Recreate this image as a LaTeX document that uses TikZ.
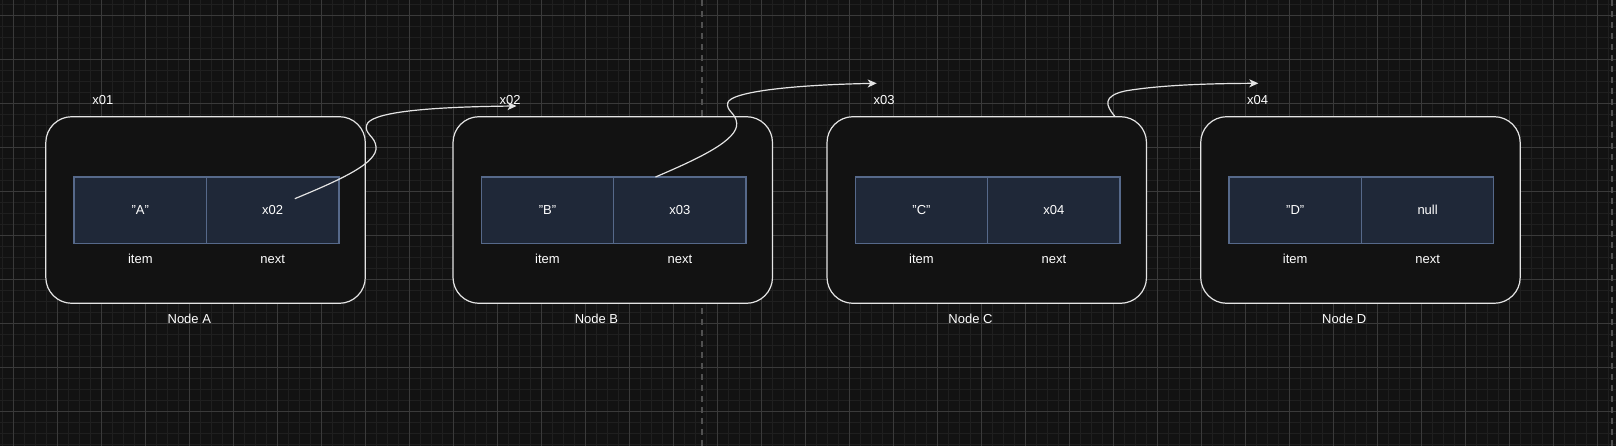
\documentclass[tikz,border=0pt]{standalone}
\usepackage{fontspec}
\setmainfont{Liberation Sans}
\usetikzlibrary{arrows.meta}
\definecolor{bg}{HTML}{121212}
\definecolor{gridminor}{HTML}{1F1F1F}
\definecolor{gridmajor}{HTML}{3A3A3A}
\definecolor{boxfill}{HTML}{121212}
\definecolor{boxline}{HTML}{E4E4E4}
\definecolor{cellfill}{HTML}{1F2838}
\definecolor{cellline}{HTML}{56698A}
\definecolor{pageline}{HTML}{505050}
\begin{document}
\begin{tikzpicture}[x=1pt,y=-1pt,
  txt/.style={text=white, font=\fontsize{13}{15}\selectfont, inner sep=0pt, text height=9.3pt, text depth=0pt},
  nodebox/.style={draw=boxline, fill=boxfill, line width=1.2pt, rounded corners=26pt, minimum width=319.5pt, minimum height=186.6pt, inner sep=0pt},
  cellbox/.style={draw=cellline, fill=cellfill, line width=1.3pt, minimum width=132.4pt, minimum height=66.3pt, txt},
  link/.style={draw=boxline, line width=1.2pt, -{Stealth[length=9pt,width=8pt,inset=2.5pt]}},
  minorline/.style={draw=gridminor, line width=1pt},
  majorline/.style={draw=gridmajor, line width=1pt},
  pagebreak/.style={draw=pageline, line width=1.5pt, dash pattern=on 6pt off 5pt},
]
\fill[bg] (0,0) rectangle (1616,446);
\useasboundingbox (0,0) rectangle (1616,446);
% grid
\foreach \k in {0,...,146} \draw[minorline] ({2.3+11*\k},0) -- ({2.3+11*\k},446);
\foreach \k in {0,...,40} \draw[minorline] (0,{4.3+11*\k}) -- (1616,{4.3+11*\k});
\foreach \k in {0,...,36} \draw[majorline] ({13.3+44*\k},0) -- ({13.3+44*\k},446);
\foreach \k in {0,...,9} \draw[majorline] (0,{15.3+44*\k}) -- (1616,{15.3+44*\k});
% page boundaries
\draw[pagebreak] (702,0) -- (702,446);
\draw[pagebreak] (1612,0) -- (1612,446);
% list nodes
\foreach \L/\n/\v/\p/\a in {45.8/A/"A"/x02/x01, 453/B/"B"/x03/x02, 827/C/"C"/x04/x03, 1200.7/D/"D"/null/x04}{
  \node[nodebox] (box\n) at ({\L+159.75},210) {};
  \node[cellbox] (item\n) at ({\L+94.5},210.15) {\v};
  \node[cellbox] (next\n) at ({\L+226.9},210.15) {\p};
  \node[txt] (itemlbl\n) at ({\L+94.5},259.3) {item};
  \node[txt] (nextlbl\n) at ({\L+226.9},259.3) {next};
  \node[txt] (name\n) at ({\L+143.5},319.3) {Node \n};
  \node[txt] (addr\n) at ({\L+57},100) {\a};
}
% pointer connectors
\coordinate (sA) at (294.8,198.7);
\coordinate (tA) at (516.5,106);
\coordinate (sB) at (655.5,177);
\coordinate (tB) at (876.7,83.3);
\coordinate (sC) at (1115,116.5);
\coordinate (tC) at (1258.3,83.3);
\draw[link] (sA) .. controls (340,180) and (378,163) .. (376,146.7)
  .. controls (375,136) and (364,134) .. (366.7,125)
  .. controls (370,113) and (420,107) .. (tA);
\draw[link] (sB) .. controls (700,158) and (738,140) .. (736.7,123.3)
  .. controls (736,113) and (726,111) .. (727.7,103)
  .. controls (730,92) and (790,85) .. (tB);
\draw[link] (sC) .. controls (1105,105) and (1103,96) .. (1125,91)
  .. controls (1160,85) and (1210,83.5) .. (tC);
\end{tikzpicture}
\end{document}
